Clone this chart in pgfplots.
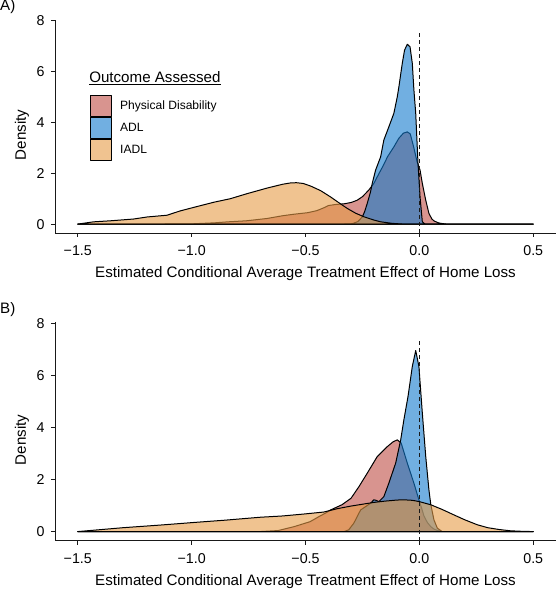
\documentclass[border=0pt]{standalone}
\usepackage{fontspec}
\setmainfont{Liberation Sans}
\usepackage{pgfplots}
\pgfplotsset{compat=1.18}
\definecolor{pinkf}{RGB}{190,76,68}
\definecolor{bluef}{RGB}{18,122,205}
\definecolor{orangef}{RGB}{230,155,70}
\definecolor{axgray}{RGB}{25,25,25}
\pgfplotsset{
  dens/.style={
    scale only axis, width=501bp,
    xmin=-1.6, xmax=0.6, ymin=-0.35, ymax=8.05,
    axis x line*=bottom, axis y line*=left,
    axis line style={axgray, line width=0.9bp},
    every tick/.style={axgray, line width=0.9bp},
    tick align=outside, major tick length=4bp,
    xtick={-1.5,-1,-0.5,0,0.5},
    xticklabels={−1.5,−1.0,−0.5,0.0,0.5},
    ytick={0,2,4,6,8},
    yticklabels={0,2,4,6,8},
    tick label style={font=\fontsize{14.3}{14.3}\selectfont},
    xticklabel style={yshift=-5bp},
    yticklabel style={xshift=-3bp},
    xlabel={Estimated Conditional Average Treatment Effect of Home Loss},
    ylabel={Density},
    label style={font=\fontsize{15.2}{15.2}\selectfont},
    xlabel style={at={(axis description cs:0.5,0)}, anchor=center, yshift=-41bp},
    ylabel style={at={(axis description cs:-0.0659,0.46)}, anchor=center},
    curve/.style={draw=black, line width=1bp, line join=round, fill opacity=0.6},
  }
}
\begin{document}
\begin{tikzpicture}
\path[use as bounding box] (0,0) rectangle (556bp,589bp);
\node[anchor=west, font=\fontsize{15.2}{15.2}\selectfont, inner sep=0pt] at (0bp,582bp) {A)};
\node[anchor=west, font=\fontsize{15.2}{15.2}\selectfont, inner sep=0pt] at (0bp,279bp) {B)};
% ---------------- Panel A
\begin{axis}[dens, at={(55bp,356bp)}, anchor=south west, height=213.4bp,
  legend style={at={(axis description cs:0.0699,0.6465)}, anchor=north west,
    draw=none, fill=none, font=\fontsize{12.1}{12.1}\selectfont,
    row sep=0pt, inner sep=0pt, column sep=0pt,
    nodes={inner sep=0pt, minimum height=21bp, anchor=west}},
  legend cell align=left,
  legend image code/.code={\draw[#1, draw=black, line width=0.9bp] (0bp,-10.5bp) rectangle (21bp,10.5bp); \path (29bp,0bp);},
]
\addplot[curve, fill=pinkf] coordinates {
(-1.5,0) (-1.2,0) (-1.0,0.01) (-0.9,0.05) (-0.84,0.09) (-0.76,0.13) (-0.67,0.22)
(-0.6,0.33) (-0.55,0.39) (-0.49,0.45) (-0.45,0.53) (-0.42,0.64) (-0.40,0.73)
(-0.37,0.77) (-0.33,0.80) (-0.30,0.85) (-0.273,0.94) (-0.25,1.08) (-0.222,1.34)
(-0.20,1.60) (-0.185,1.86) (-0.156,2.35) (-0.14,2.65) (-0.112,3.04) (-0.09,3.38)
(-0.07,3.58) (-0.053,3.63) (-0.04,3.55) (-0.024,3.0) (-0.01,2.45) (0.003,2.13)
(0.013,1.60) (0.028,0.94) (0.042,0.42) (0.055,0.2) (0.064,0.13) (0.08,0.06)
(0.094,0.03) (0.12,0) (0.5,0)} \closedcycle;
\addlegendentry{Physical Disability}
\addplot[curve, fill=bluef] coordinates {
(-1.5,0) (-0.35,0) (-0.30,0.01) (-0.29,0.03) (-0.27,0.1) (-0.25,0.29) (-0.24,0.5)
(-0.229,0.81) (-0.215,1.25) (-0.207,1.60) (-0.192,2.13) (-0.17,2.65) (-0.156,3.31)
(-0.134,3.83) (-0.112,4.36) (-0.097,5.01) (-0.09,5.4) (-0.075,6.33) (-0.065,6.85)
(-0.053,7.08) (-0.041,6.98) (-0.031,6.33) (-0.024,5.28) (-0.016,4.36) (-0.006,2.39)
(0.003,1.07) (0.013,0.09) (0.025,0) (0.5,0)} \closedcycle;
\addlegendentry{ADL}
\addplot[curve, fill=orangef] coordinates {
(-1.5,0) (-1.43,0.09) (-1.357,0.13) (-1.255,0.2) (-1.196,0.28) (-1.108,0.35)
(-1.05,0.52) (-0.99,0.66) (-0.903,0.86) (-0.83,1.0) (-0.756,1.2) (-0.668,1.42)
(-0.60,1.57) (-0.566,1.62) (-0.54,1.63) (-0.51,1.6) (-0.478,1.5) (-0.434,1.32)
(-0.39,1.07) (-0.35,0.82) (-0.317,0.62) (-0.28,0.43) (-0.244,0.29) (-0.2,0.16)
(-0.17,0.09) (-0.12,0.03) (-0.07,0) (0.5,0)} \closedcycle;
\addlegendentry{IADL}
\addplot[forget plot, axgray, line width=1.1bp, dash pattern=on 4bp off 3bp] coordinates {(0,-0.35) (0,7.52)};
\node[anchor=west, inner sep=0pt, font=\fontsize{15.2}{15.2}\selectfont] at (axis description cs:0.068,0.7256) {\underline{Outcome Assessed}};
\end{axis}
% ---------------- Panel B
\begin{axis}[dens, at={(55bp,48.3bp)}, anchor=south west, height=218.8bp]
\addplot[curve, fill=pinkf] coordinates {
(-1.5,0) (-0.7,0) (-0.62,0.04) (-0.55,0.19) (-0.48,0.38) (-0.44,0.58) (-0.41,0.72)
(-0.39,0.83) (-0.34,1.03) (-0.30,1.28) (-0.265,1.73) (-0.229,2.24) (-0.185,2.88)
(-0.141,3.26) (-0.115,3.45) (-0.097,3.52) (-0.08,3.4) (-0.053,2.63) (-0.024,1.86)
(-0.002,1.22) (0.01,0.9) (0.02,0.6) (0.035,0.35) (0.05,0.19) (0.065,0.09)
(0.08,0.04) (0.1,0) (0.5,0)} \closedcycle;
\addplot[curve, fill=bluef] coordinates {
(-1.5,0) (-0.33,0) (-0.31,0.07) (-0.288,0.32) (-0.258,0.83) (-0.214,1.09) (-0.2,1.22)
(-0.19,1.2) (-0.178,1.15) (-0.156,1.34) (-0.134,1.86) (-0.104,2.63) (-0.082,3.52)
(-0.068,4.29) (-0.05,5.18) (-0.031,6.34) (-0.016,6.95) (-0.002,6.34) (0.013,4.55)
(0.028,2.88) (0.042,1.6) (0.05,1.05) (0.064,0.45) (0.079,0.13) (0.1,0) (0.5,0)} \closedcycle;
\addplot[curve, fill=orangef] coordinates {
(-1.5,0) (-1.3,0.15) (-1.138,0.25) (-0.99,0.35) (-0.85,0.44) (-0.7,0.55) (-0.6,0.6)
(-0.5,0.68) (-0.42,0.75) (-0.36,0.88) (-0.3,0.98) (-0.25,1.05) (-0.2,1.12)
(-0.15,1.17) (-0.1,1.21) (-0.068,1.22) (-0.03,1.2) (0.0,1.15) (0.05,1.03) (0.1,0.85)
(0.152,0.64) (0.2,0.45) (0.255,0.26) (0.3,0.15) (0.35,0.08) (0.4,0.03) (0.45,0.01)
(0.5,0)} \closedcycle;
\addplot[axgray, line width=1.1bp, dash pattern=on 4bp off 3bp] coordinates {(0,-0.35) (0,7.3)};
\end{axis}
\end{tikzpicture}
\end{document}
